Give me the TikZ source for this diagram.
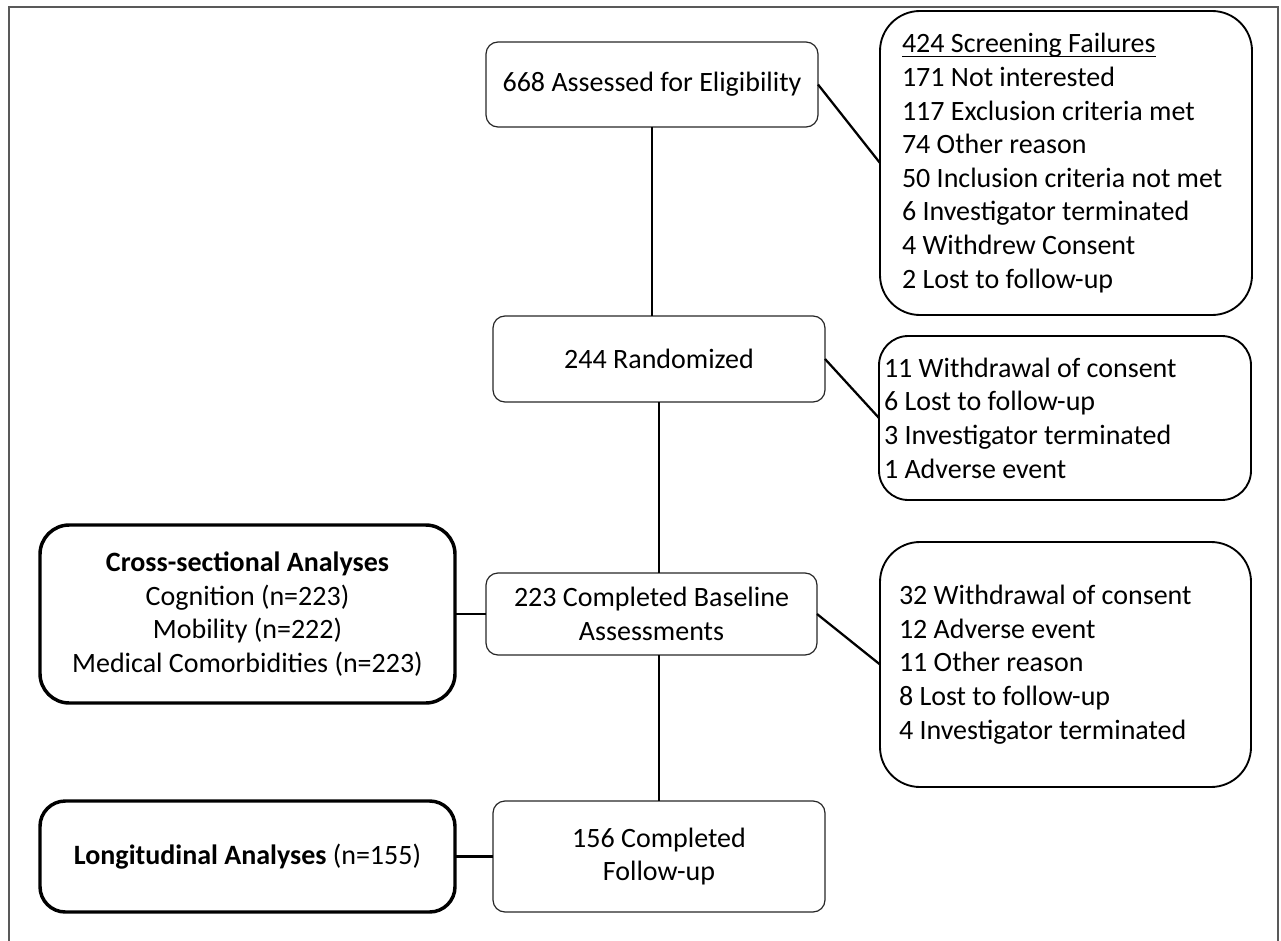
\documentclass[tikz,border=0pt]{standalone}
\usepackage{fontspec}
\setmainfont{Carlito}
\usetikzlibrary{calc}
\newcommand\ulfail[1]{\setbox0\hbox{#1}\rlap{\rule[-3.3pt]{\wd0}{0.8pt}}\box0}
\begin{document}
\begin{tikzpicture}[x=0.75pt,y=-0.75pt,
  every node/.style={font=\fontsize{21pt}{25.2pt}\selectfont, outer sep=0pt},
  smallbox/.style={draw=black!85, line width=0.9pt, rounded corners=9pt, align=flush center, inner sep=0pt},
  bigbox/.style={draw=black, line width=1.4pt, rounded corners=30pt, align=flush left, inner ysep=0pt},
  thickbox/.style={draw=black, line width=2.6pt, rounded corners=22pt, align=flush center, inner sep=0pt},
  link/.style={draw=black, line width=1.7pt}]
\useasboundingbox (0,0) rectangle (1281,941);
\draw[draw=black!65, line width=1.2pt] (9,941) -- (9,7) -- (1278,7) -- (1278,941);

\node[smallbox, minimum width=249pt, minimum height=63.75pt] (A) at (652,84.5) {668 Assessed for Eligibility};
\node[smallbox, minimum width=249pt, minimum height=64.5pt] (B) at (659,359) {244 Randomized};
\node[smallbox, minimum width=248.25pt, minimum height=61.5pt] (C) at (651.5,614) {223 Completed Baseline\\Assessments};
\node[smallbox, minimum width=249pt, minimum height=83.25pt] (D) at (659,856.5) {156 Completed\\Follow-up};

\node[bigbox, inner xsep=16.5pt, text width=246pt, minimum height=228pt] (S) at (1066,163)
  {\ulfail{424 Screening Failures}\\171 Not interested\\117 Exclusion criteria met\\74 Other reason\\50 Inclusion criteria not met\\6 Investigator terminated\\4 Withdrew Consent\\2 Lost to follow-up};
\node[bigbox, rounded corners=22pt, inner xsep=3.75pt, text width=271.5pt, minimum height=123pt] (W1) at (1065,418)
  {11 Withdrawal of consent\\6 Lost to follow-up\\3 Investigator terminated\\1 Adverse event};
\node[bigbox, inner xsep=14.25pt, text width=249.75pt, minimum height=183.75pt] (W2) at (1065.5,664.5)
  {32 Withdrawal of consent\\12 Adverse event\\11 Other reason\\8 Lost to follow-up\\4 Investigator terminated};

\node[thickbox, minimum width=311.25pt, minimum height=133.5pt] (X) at (247.5,614)
  {\textbf{Cross-sectional Analyses}\\Cognition (n=223)\\Mobility (n=222)\\Medical Comorbidities (n=223)};
\node[thickbox, rounded corners=19pt, minimum width=311.25pt, minimum height=83.25pt] (L) at (247.5,856.5)
  {\textbf{Longitudinal Analyses} (n=155)};

\draw[link] (A.south) -- (A.south |- B.north);
\draw[link] (B.south) -- (B.south |- C.north);
\draw[link] (D.north |- C.south) -- (D.north);
\draw[link] (A.east) -- (S.west);
\draw[link] (B.east) -- (W1.west);
\draw[link] (C.east) -- (W2.west);
\draw[link] (X.east) -- (C.west);
\draw[link] (L.east) -- (D.west);
\end{tikzpicture}
\end{document}
